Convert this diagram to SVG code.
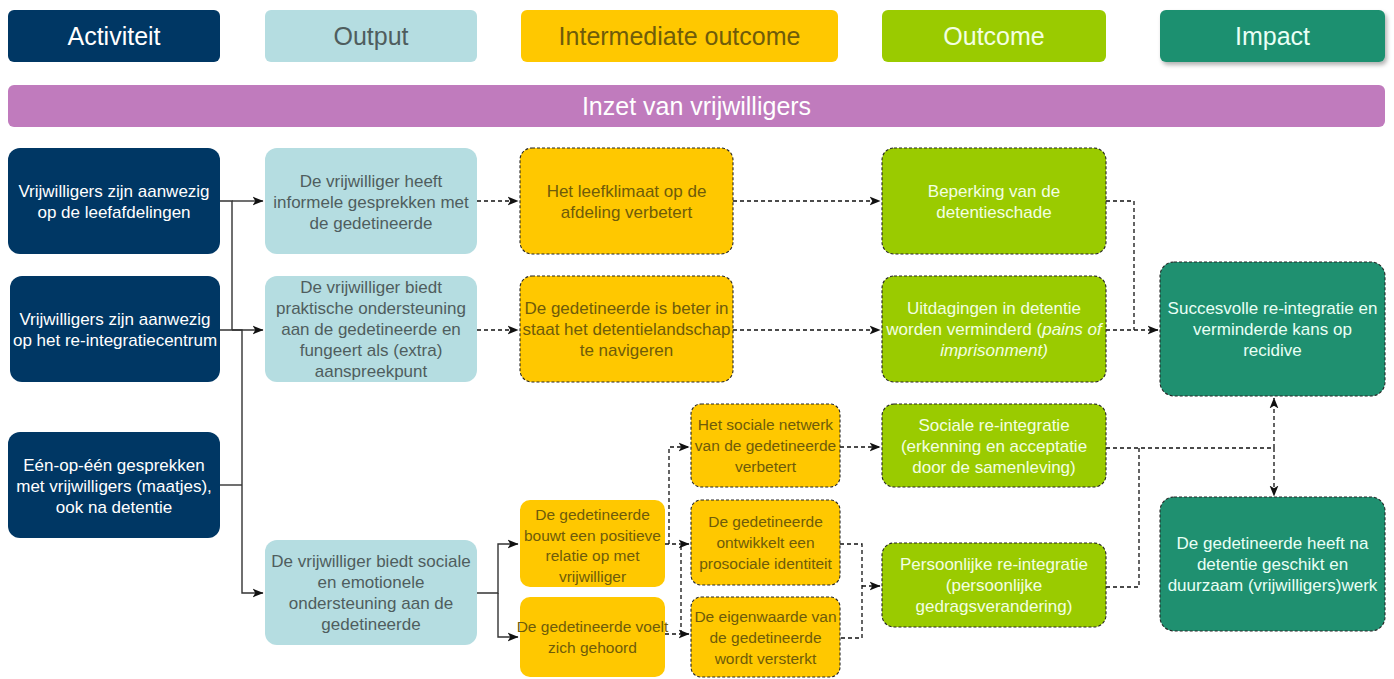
<svg xmlns="http://www.w3.org/2000/svg" width="1394" height="679" viewBox="0 0 1394 679">
<defs>
<style>
text{font-family:"Liberation Sans",Arial,sans-serif;text-anchor:middle}
.h{font-size:25px}
.t{font-size:17px}
.s{font-size:15.5px}
.act{fill:#003764}
.out{fill:#b5dde1}
.int{fill:#ffc800}
.oc{fill:#9acb00}
.imp{fill:#1f9070}
.dash{stroke:#262626;stroke-width:1.1;stroke-dasharray:3 2}
.wt{fill:#ffffff}
.gt{fill:#4f5d5e}
.yt{fill:#6f5c0a}
.lt{fill:#f3ffe2}
.it{fill:#e9fff5}
.c{fill:none;stroke:#333;stroke-width:1.4}
.cd{fill:none;stroke:#111;stroke-width:1.3;stroke-dasharray:4 3}
</style>
<marker id="ah" viewBox="0 0 10 10" refX="9.5" refY="5" markerWidth="11" markerHeight="11" orient="auto" markerUnits="userSpaceOnUse">
<path d="M0,1 L10,5 L0,9 L2.5,5 z" fill="#111"/>
</marker>
<filter id="sh" x="-10%" y="-20%" width="120%" height="160%">
<feDropShadow dx="2" dy="3" stdDeviation="2" flood-color="#000" flood-opacity="0.3"/>
</filter>
</defs>
<rect width="1394" height="679" fill="#ffffff"/>

<!-- headers -->
<g id="hdr-activiteit"><rect class="act" x="8" y="10" width="212" height="52" rx="6"/><text class="h wt" x="114" y="45">Activiteit</text></g>
<g id="hdr-output"><rect class="out" x="265" y="10" width="212" height="52" rx="6"/><text class="h gt" x="371" y="45">Output</text></g>
<g id="hdr-intermediate"><rect class="int" x="521" y="10" width="317" height="52" rx="6"/><text class="h yt" x="679.5" y="45">Intermediate outcome</text></g>
<g id="hdr-outcome"><rect class="oc" x="882" y="10" width="224" height="52" rx="6"/><text class="h lt" x="994" y="45">Outcome</text></g>
<g id="hdr-impact"><rect class="imp" x="1160" y="10" width="225" height="52" rx="6" filter="url(#sh)"/><text class="h it" x="1272.5" y="45">Impact</text></g>

<g id="banner"><rect x="8" y="85" width="1377" height="42" rx="6" fill="#c07bbd"/><text class="h wt" x="696.5" y="115">Inzet van vrijwilligers</text></g>

<!-- connectors -->
<g id="connectors">
<path class="c" d="M220,201 H232 V330"/>
<path class="c" d="M232,201 H263" marker-end="url(#ah)"/>
<path class="c" d="M220,330 H263" marker-end="url(#ah)"/>
<path class="c" d="M232,330 H242 V593 H263" marker-end="url(#ah)"/>
<path class="c" d="M220,485 H242"/>
<path class="c" d="M477,593 H498 V544 H518" marker-end="url(#ah)"/>
<path class="c" d="M498,593 V637 H518" marker-end="url(#ah)"/>

<path class="cd" d="M477,201 H518" marker-end="url(#ah)"/>
<path class="cd" d="M477,330 H518" marker-end="url(#ah)"/>
<path class="cd" d="M733,201 H880" marker-end="url(#ah)"/>
<path class="cd" d="M733,330 H880" marker-end="url(#ah)"/>
<path class="cd" d="M1106,201 H1134 V330"/>
<path class="cd" d="M1106,330 H1158" marker-end="url(#ah)"/>

<path class="cd" d="M665,544 H689" marker-end="url(#ah)"/>
<path class="cd" d="M669,544 V447 H689" marker-end="url(#ah)"/>
<path class="cd" d="M665,634 H689" marker-end="url(#ah)"/>
<path class="cd" d="M681,634 V544"/>

<path class="cd" d="M840,447 H880" marker-end="url(#ah)"/>
<path class="cd" d="M840,544 H862 V638 H840"/>
<path class="cd" d="M862,586 H880" marker-end="url(#ah)"/>

<path class="cd" d="M1106,448 H1274"/>
<path class="cd" d="M1106,587 H1139 V448"/>
<path class="cd" d="M1274,448 V398" marker-end="url(#ah)"/>
<path class="cd" d="M1274,448 V496" marker-end="url(#ah)"/>
</g>

<!-- activiteit -->
<g id="act1"><rect class="act" x="8" y="148" width="212" height="106" rx="12"/><text class="t wt" x="114" y="197">Vrijwilligers zijn aanwezig</text><text class="t wt" x="114" y="218">op de leefafdelingen</text></g>
<g id="act2"><rect class="act" x="10" y="276" width="210" height="106" rx="12"/><text class="t wt" x="115" y="325">Vrijwilligers zijn aanwezig</text><text class="t wt" x="115" y="346">op het re-integratiecentrum</text></g>
<g id="act3"><rect class="act" x="8" y="432" width="212" height="106" rx="12"/><text class="t wt" x="114" y="471">Eén-op-één gesprekken</text><text class="t wt" x="114" y="492">met vrijwilligers (maatjes),</text><text class="t wt" x="114" y="513">ook na detentie</text></g>

<!-- output -->
<g id="out1"><rect class="out" x="265" y="148" width="212" height="106" rx="12"/><text class="t gt" x="371" y="187">De vrijwilliger heeft</text><text class="t gt" x="371" y="208">informele gesprekken met</text><text class="t gt" x="371" y="229">de gedetineerde</text></g>
<g id="out2"><rect class="out" x="265" y="276" width="212" height="106" rx="12"/><text class="t gt" x="371" y="293">De vrijwilliger biedt</text><text class="t gt" x="371" y="314">praktische ondersteuning</text><text class="t gt" x="371" y="335">aan de gedetineerde en</text><text class="t gt" x="371" y="356">fungeert als (extra)</text><text class="t gt" x="371" y="377">aanspreekpunt</text></g>
<g id="out3"><rect class="out" x="265" y="540" width="212" height="105" rx="12"/><text class="t gt" x="371" y="567">De vrijwilliger biedt sociale</text><text class="t gt" x="371" y="588">en emotionele</text><text class="t gt" x="371" y="609">ondersteuning aan de</text><text class="t gt" x="371" y="630">gedetineerde</text></g>

<!-- intermediate -->
<g id="int1"><rect class="int dash" x="520" y="148" width="213" height="106" rx="12"/><text class="t yt" x="626.5" y="197">Het leefklimaat op de</text><text class="t yt" x="626.5" y="218">afdeling verbetert</text></g>
<g id="int2"><rect class="int dash" x="520" y="276" width="213" height="106" rx="12"/><text class="t yt" x="626.5" y="314">De gedetineerde is beter in</text><text class="t yt" x="626.5" y="335">staat het detentielandschap</text><text class="t yt" x="626.5" y="356">te navigeren</text></g>
<g id="int-bouwt"><rect class="int" x="520" y="500" width="145" height="87" rx="10"/><text class="s yt" x="592.5" y="520">De gedetineerde</text><text class="s yt" x="592.5" y="540.5">bouwt een positieve</text><text class="s yt" x="592.5" y="561">relatie op met</text><text class="s yt" x="592.5" y="581.5">vrijwilliger</text></g>
<g id="int-voelt"><rect class="int" x="520" y="597" width="145" height="80" rx="10"/><text class="s yt" x="592.5" y="632">De gedetineerde voelt</text><text class="s yt" x="592.5" y="653">zich gehoord</text></g>
<g id="int-netwerk"><rect class="int dash" x="691" y="404" width="149" height="83" rx="10"/><text class="s yt" x="765.5" y="430">Het sociale netwerk</text><text class="s yt" x="765.5" y="451">van de gedetineerde</text><text class="s yt" x="765.5" y="472">verbetert</text></g>
<g id="int-identiteit"><rect class="int dash" x="691" y="500" width="149" height="85" rx="10"/><text class="s yt" x="765.5" y="527">De gedetineerde</text><text class="s yt" x="765.5" y="548">ontwikkelt een</text><text class="s yt" x="765.5" y="569">prosociale identiteit</text></g>
<g id="int-eigenwaarde"><rect class="int dash" x="691" y="597" width="149" height="80" rx="10"/><text class="s yt" x="765.5" y="622">De eigenwaarde van</text><text class="s yt" x="765.5" y="643">de gedetineerde</text><text class="s yt" x="765.5" y="664">wordt versterkt</text></g>

<!-- outcome -->
<g id="oc1"><rect class="oc dash" x="882" y="148" width="224" height="106" rx="12"/><text class="t lt" x="994" y="197">Beperking van de</text><text class="t lt" x="994" y="218">detentieschade</text></g>
<g id="oc2"><rect class="oc dash" x="882" y="276" width="224" height="106" rx="12"/><text class="t lt" x="994" y="314">Uitdagingen in detentie</text><text class="t lt" x="994" y="335">worden verminderd (<tspan font-style="italic">pains of</tspan></text><text class="t lt" x="994" y="356" font-style="italic">imprisonment)</text></g>
<g id="oc3"><rect class="oc dash" x="882" y="404" width="224" height="83" rx="12"/><text class="t lt" x="994" y="431">Sociale re-integratie</text><text class="t lt" x="994" y="452">(erkenning en acceptatie</text><text class="t lt" x="994" y="473">door de samenleving)</text></g>
<g id="oc4"><rect class="oc dash" x="882" y="543" width="224" height="84" rx="12"/><text class="t lt" x="994" y="570">Persoonlijke re-integratie</text><text class="t lt" x="994" y="591">(persoonlijke</text><text class="t lt" x="994" y="612">gedragsverandering)</text></g>

<!-- impact -->
<g id="imp1"><rect class="imp dash" x="1160" y="262" width="225" height="134" rx="14"/><text class="t it" x="1272.5" y="314">Succesvolle re-integratie en</text><text class="t it" x="1272.5" y="335">verminderde kans op</text><text class="t it" x="1272.5" y="356">recidive</text></g>
<g id="imp2"><rect class="imp dash" x="1160" y="497" width="225" height="134" rx="14"/><text class="t it" x="1272.5" y="549">De gedetineerde heeft na</text><text class="t it" x="1272.5" y="570">detentie geschikt en</text><text class="t it" x="1272.5" y="591">duurzaam (vrijwilligers)werk</text></g>
</svg>
